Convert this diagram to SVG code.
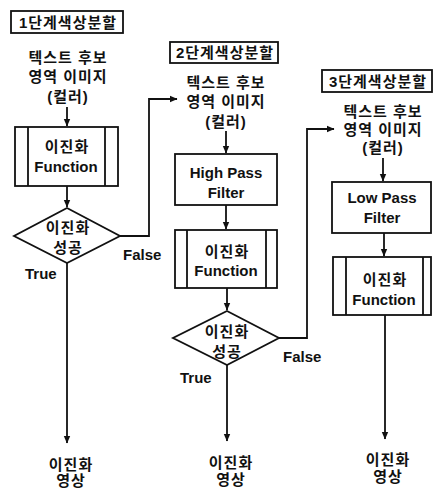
<svg xmlns="http://www.w3.org/2000/svg" width="433" height="490" viewBox="0 0 433 490">
<style>
.box{fill:#fff;stroke:#111;stroke-width:1.8}
.ln{fill:none;stroke:#111;stroke-width:1.8}
.c{stroke:#111;stroke-width:1.8;fill:none}
.t{font-family:"Liberation Sans","Noto Sans CJK KR",sans-serif;font-weight:bold;font-size:15px;text-anchor:middle;fill:#111}
.k{letter-spacing:1px}
.s{text-anchor:start}
</style>
<defs>
<marker id="ah" markerUnits="userSpaceOnUse" markerWidth="8" markerHeight="8" refX="7" refY="4" orient="auto">
<path d="M0,0.8 L7.5,4 L0,7.2 Z" fill="#111"/>
</marker>
</defs>
<rect width="433" height="490" fill="#fff"/>

<g id="connectors">
<path class="c" d="M67,107 V126" marker-end="url(#ah)"/>
<path class="c" d="M67,186 V207" marker-end="url(#ah)"/>
<path class="c" d="M120,236 H149 V99 H177" marker-end="url(#ah)"/>
<path class="c" d="M67,263 V443" marker-end="url(#ah)"/>
<path class="c" d="M226,131 V153" marker-end="url(#ah)"/>
<path class="c" d="M226,205 V229" marker-end="url(#ah)"/>
<path class="c" d="M227,288 V310" marker-end="url(#ah)"/>
<path class="c" d="M279,338 H307 V129 H334" marker-end="url(#ah)"/>
<path class="c" d="M227,365 V441" marker-end="url(#ah)"/>
<path class="c" d="M383,158 V181" marker-end="url(#ah)"/>
<path class="c" d="M384,233 V256" marker-end="url(#ah)"/>
<path class="c" d="M385,315 V439" marker-end="url(#ah)"/>
</g>

<g id="title1"><rect class="box" x="11" y="11" width="112" height="22"/><text class="t k" x="68" y="27.5">1단계색상분할</text></g>
<g id="input1"><text class="t k" x="68" y="63">텍스트 후보</text><text class="t k" x="68" y="82">영역 이미지</text><text class="t k" x="68" y="102">(컬러)</text></g>
<g id="func1"><rect class="box" x="15" y="127" width="103" height="59"/><path class="ln" d="M28,127 V186 M105,127 V186"/><text class="t k" x="67" y="152">이진화</text><text class="t" x="66" y="172">Function</text></g>
<g id="dec1"><polygon class="box" points="67,208 120,236 67,263 14,236"/><text class="t k" x="68" y="233">이진화</text><text class="t k" x="68" y="253">성공</text></g>
<g id="lbl1"><text class="t s" x="123" y="260">False</text><text class="t s" x="25" y="279">True</text></g>
<g id="out1"><text class="t k" x="71" y="470">이진화</text><text class="t k" x="71" y="486">영상</text></g>

<g id="title2"><rect class="box" x="170" y="42" width="108" height="21"/><text class="t k" x="225" y="58">2단계색상분할</text></g>
<g id="input2"><text class="t k" x="226" y="88">텍스트 후보</text><text class="t k" x="226" y="107">영역 이미지</text><text class="t k" x="226" y="127">(컬러)</text></g>
<g id="hpf"><rect class="box" x="175" y="154" width="102" height="51"/><text class="t" x="226" y="178">High Pass</text><text class="t" x="226" y="198">Filter</text></g>
<g id="func2"><rect class="box" x="175" y="230" width="102" height="58"/><path class="ln" d="M187,230 V288 M266,230 V288"/><text class="t k" x="227" y="257">이진화</text><text class="t" x="226" y="276">Function</text></g>
<g id="dec2"><polygon class="box" points="227,311 279,338 227,365 173,338"/><text class="t k" x="227" y="337">이진화</text><text class="t k" x="227" y="357">성공</text></g>
<g id="lbl2"><text class="t s" x="283" y="362">False</text><text class="t s" x="180" y="383">True</text></g>
<g id="out2"><text class="t k" x="231" y="468">이진화</text><text class="t k" x="231" y="485">영상</text></g>

<g id="title3"><rect class="box" x="322" y="70" width="110" height="22"/><text class="t k" x="378" y="86.5">3단계색상분할</text></g>
<g id="input3"><text class="t k" x="383" y="117">텍스트 후보</text><text class="t k" x="383" y="135">영역 이미지</text><text class="t k" x="383" y="153">(컬러)</text></g>
<g id="lpf"><rect class="box" x="332" y="182" width="99" height="51"/><text class="t" x="382" y="203">Low Pass</text><text class="t" x="382" y="223">Filter</text></g>
<g id="func3"><rect class="box" x="333" y="257" width="98" height="58"/><path class="ln" d="M346,257 V315 M423,257 V315"/><text class="t k" x="385" y="285">이진화</text><text class="t" x="384" y="305">Function</text></g>
<g id="out3"><text class="t k" x="388" y="465">이진화</text><text class="t k" x="388" y="482">영상</text></g>
</svg>
